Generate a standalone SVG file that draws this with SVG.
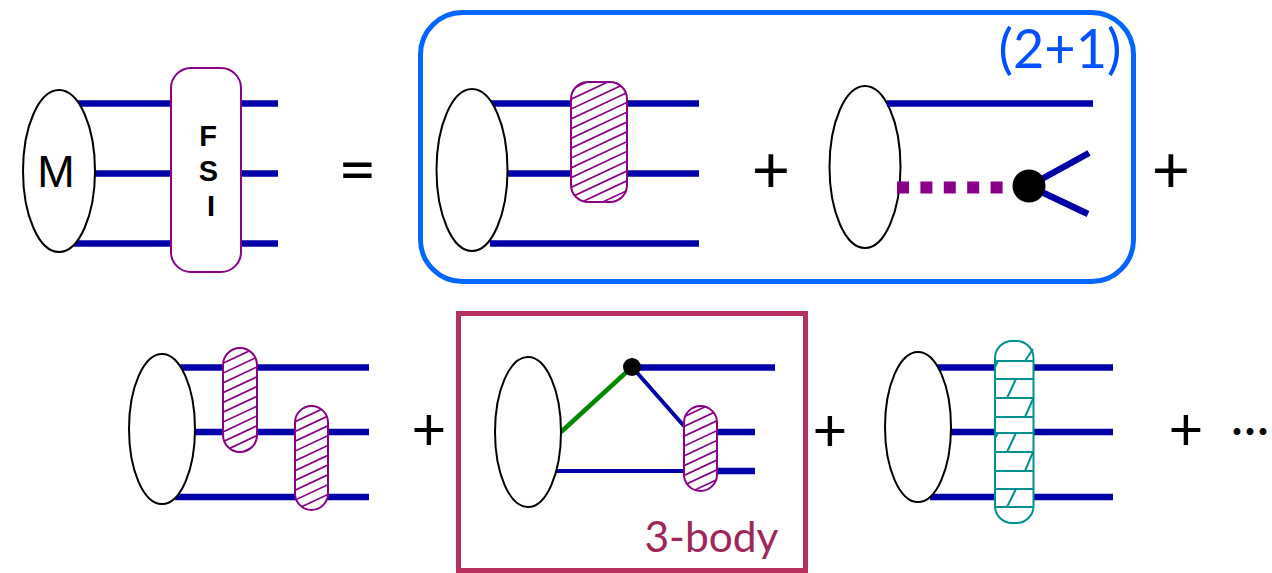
<svg xmlns="http://www.w3.org/2000/svg" width="1272" height="573" viewBox="0 0 1272 573">
<style>
.e{fill:#fff;stroke:#000;stroke-width:2}
.l{stroke:#0000a8;stroke-width:6.500;fill:none}
.t{stroke:#0000a8;stroke-width:4;fill:none}
.p{fill:#fff;stroke:#8b008b;stroke-width:2}
.h{fill:none;stroke:#8b008b;stroke-width:2}
.w{fill:#fff;stroke:none}
.o{font-family:"Lato","Open Sans",sans-serif;fill:#000;text-anchor:middle}
.a{font-family:"Liberation Sans",Arial,sans-serif;fill:#000}
.g{fill:none;stroke:#009090;stroke-width:2}
.hl{fill:none;stroke:#8b008b;stroke-width:1.700}
</style>
<defs>
<path id="hatch" d="M0 0L60 -28.200M0 9.800L60 -18.400M0 19.600L60 -8.600M0 29.400L60 1.200M0 39.200L60 11M0 49L60 20.800M0 58.800L60 30.600M0 68.600L60 40.400M0 78.400L60 50.200M0 88.200L60 60M0 98L60 69.800M0 107.800L60 79.600M0 117.600L60 89.400M0 127.400L60 99.200M0 137.200L60 109M0 147L60 118.800"/>
<clipPath id="c1"><rect x="571" y="82" width="56" height="120" rx="17"/></clipPath>
<clipPath id="c2"><rect x="223" y="348" width="34" height="104" rx="17"/></clipPath>
<clipPath id="c3"><rect x="295" y="406" width="33" height="104" rx="16.500"/></clipPath>
<clipPath id="c4"><rect x="684" y="406" width="33" height="85" rx="16.500"/></clipPath>
</defs>
<g id="frames">
<rect x="420.500" y="12.500" width="713" height="269" rx="42" fill="none" stroke="#0066ff" stroke-width="5"/>
<rect x="458.500" y="313.500" width="347" height="257" fill="none" stroke="#b8305f" stroke-width="5"/>
</g>
<g id="node-2b-body">
<ellipse class="e" cx="865" cy="167" rx="35.500" ry="81"/>
</g>
<g id="connectors">
<path class="l" d="M78 103.500H278M78 173.500H278M72 243.500H278"/>
<path class="l" d="M490 103.500H699M500 173.500H699M490 243.500H699"/>
<path class="l" d="M887 103.500H1093M1029 186L1089 153M1029 186L1088 214"/>
<path d="M897 187.500H1025" fill="none" stroke="#8b008b" stroke-width="12" stroke-dasharray="12 11.400"/>
<path class="l" d="M180 367.500H369M190 432H369M175 497H369"/>
<path class="l" d="M632 367.500H775M717 432H755M717 471H755"/>
<path d="M561 432L632 367" fill="none" stroke="#008800" stroke-width="4.500"/>
<path class="t" d="M632 367L684 426M555 471H684"/>
<path class="l" d="M935 367.500H1113M945 432H1113M930 497H1113"/>
</g>
<g id="node-m">
<ellipse class="e" cx="59" cy="171" rx="36" ry="81"/>
<text class="a" x="56" y="187" font-size="45" text-anchor="middle">M</text>
</g>
<g id="node-fsi">
<rect class="p" x="171" y="68" width="70" height="204" rx="20"/>
<text class="a" font-size="29" font-weight="700" text-anchor="middle"><tspan x="208" y="146">F</tspan><tspan x="208.500" y="181">S</tspan><tspan x="211" y="216">I</tspan></text>
</g>
<g id="equals"><text class="o" x="357.500" y="193" font-size="66">=</text></g>
<g id="node-2a">
<ellipse class="e" cx="472" cy="170" rx="35.500" ry="81"/>
<rect class="w" x="571" y="82" width="56" height="120" rx="17"/>
<g clip-path="url(#c1)"><use href="#hatch" class="hl" transform="translate(571,89.500)"/></g>
<rect class="h" x="571" y="82" width="56" height="120" rx="17"/>
</g>
<g id="plus-1"><text class="o" x="771" y="193.400" font-size="66">+</text></g>
<g id="vertex-2b"><circle cx="1029" cy="186" r="16.500" fill="#000"/></g>
<g id="label-21"><text x="1060" y="68" font-size="54" font-family="Lato,'Open Sans',sans-serif" fill="#0050ff" text-anchor="middle">(2+1)</text></g>
<g id="plus-2"><text class="o" x="1171" y="193.400" font-size="66">+</text></g>
<g id="node-3">
<ellipse class="e" cx="162" cy="429" rx="33" ry="75"/>
<rect class="w" x="223" y="348" width="34" height="104" rx="17"/>
<g clip-path="url(#c2)"><use href="#hatch" class="hl" transform="translate(223,353.500)"/></g>
<rect class="h" x="223" y="348" width="34" height="104" rx="17"/>
<rect class="w" x="295" y="406" width="33" height="104" rx="16.500"/>
<g clip-path="url(#c3)"><use href="#hatch" class="hl" transform="translate(295,411.900)"/></g>
<rect class="h" x="295" y="406" width="33" height="104" rx="16.500"/>
</g>
<g id="plus-3"><text class="o" x="429" y="450.400" font-size="60">+</text></g>
<g id="node-4">
<ellipse class="e" cx="528" cy="432" rx="33" ry="75"/>
<circle cx="632" cy="367" r="9" fill="#000"/>
<rect class="w" x="684" y="406" width="33" height="85" rx="16.500"/>
<g clip-path="url(#c4)"><use href="#hatch" class="hl" transform="translate(684,406.900)"/></g>
<rect class="h" x="684" y="406" width="33" height="85" rx="16.500"/>
</g>
<g id="label-3body"><text x="711.500" y="552" font-size="42.500" font-family="Lato,'Open Sans',sans-serif" fill="#a0265a" text-anchor="middle">3-body</text></g>
<g id="plus-4"><text class="o" x="830" y="451.400" font-size="60">+</text></g>
<g id="node-5">
<ellipse class="e" cx="918" cy="427" rx="33" ry="75"/>
<rect x="994" y="341" width="40" height="182" rx="17" fill="#fff"/>
<path class="g" d="M995 361H1033M995 379H1033M995 398H1033M995 417H1033M995 433H1033M995 452H1033M995 471H1033M995 489H1033M995 507H1033M1025 361L1033 349M1007 398L1016 379M1025 417L1033 399M995 367L998 361M1007 452L1016 433M1025 471L1033 452M995 438L998 433M1007 507L1016 489"/>
<rect class="g" x="995" y="341" width="38.500" height="182" rx="17"/>
</g>
<g id="plus-5"><text class="o" x="1186" y="450.400" font-size="60">+</text></g>
<g id="dots"><text x="1231" y="445" font-size="46" font-family="Lato,'Open Sans',sans-serif" fill="#000"><tspan letter-spacing="1">··</tspan>·</text></g>
</svg>
